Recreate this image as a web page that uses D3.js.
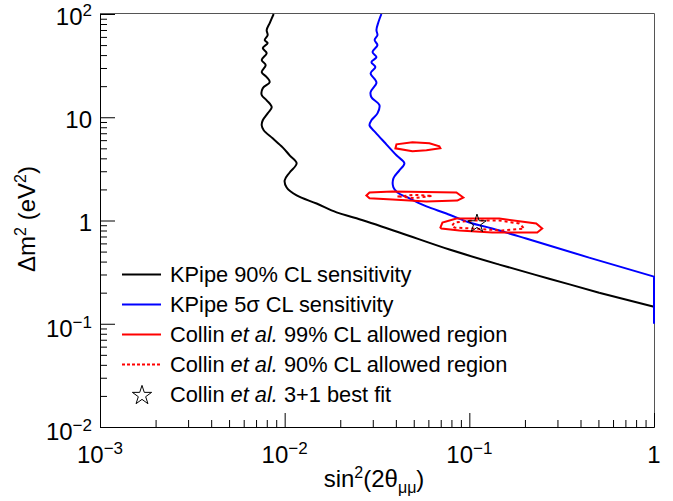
<!DOCTYPE html>
<html><head><meta charset="utf-8">
<script src="https://cdn.jsdelivr.net/npm/d3@7"></script>
<style>
body{margin:0;background:#fff}
text{font-family:"Liberation Sans",Arial,Helvetica,sans-serif;fill:#000}
</style>
</head><body>
<svg id="chart" width="673" height="501"></svg>
<script>
// ---------- data ----------
const xMajorTicks = [0.001, 0.01, 0.1, 1];
const xTickLabels = [["10","\u22123"],["10","\u22122"],["10","\u22121"],["1",""]];
const yMajorTicks = [0.01, 0.1, 1, 10, 100];
const yTickLabels = [["10","\u22122"],["10","\u22121"],["1",""],["10",""],["10","2"]];

// KPipe 90% CL sensitivity
const kp90Sin = [0.00872,0.00830,0.00799,0.00809,0.00780,0.00809,0.00761,0.00799,0.00751,0.00789,
  0.00751,0.00799,0.00830,0.00761,0.00751,0.00799,0.00851,0.00809,0.00761,0.00751,
  0.00770,0.00861,0.00975,0.01064,0.01161,0.01064,0.0100,0.01025,0.01161,0.01489,
  0.0191,0.0245,0.0418,0.078,0.1453,0.2707,0.5045,1.0];
const kp90Dm = [100,81.7,70.0,62.5,55.9,52.3,46.8,41.8,35.8,32.0,
  27.4,24.5,21.9,19.1,16.4,14.6,12.5,10.9,9.35,8.36,
  7.48,6.25,5.11,4.28,3.58,2.92,2.45,2.09,1.75,1.46,
  1.20,1.05,0.765,0.523,0.374,0.273,0.200,0.146];

// KPipe 5 sigma CL sensitivity
const kp5sSin = [0.0334,0.0322,0.0314,0.0318,0.0307,0.0318,0.0299,0.0314,0.0295,0.0310,
  0.0292,0.0310,0.0314,0.0292,0.0295,0.0326,0.0318,0.0295,0.0288,0.0310,
  0.0347,0.0403,0.0445,0.0418,0.0388,0.0388,0.0408,0.0474,0.0586,0.0751,
  0.100,0.133,0.203,0.445,1.0,1.0];
const kp5sDm = [100,83.6,70.0,62.5,55.9,50.0,42.8,38.2,34.2,30.6,
  26.7,22.9,21.4,17.5,15.6,13.1,10.9,9.35,8.36,7.15,
  5.72,4.28,3.58,3.06,2.56,2.09,1.87,1.64,1.37,1.17,
  0.956,0.836,0.669,0.437,0.286,0.1];

// Collin et al. 99% CL allowed regions (three islands)
const c99UpperSin = [0.0398,0.0403,0.0492,0.0608,0.0688,0.0697,0.0586,0.0492];
const c99UpperDm  = [5.00,5.47,5.72,5.59,5.23,5.00,4.78,4.68];
const c99MidSin = [0.0277,0.0288,0.0384,0.0851,0.0928,0.0861,0.0586,0.0384,0.0288];
const c99MidDm  = [1.75,1.87,1.91,1.87,1.67,1.56,1.53,1.60,1.64];
const c99LowSin = [0.0697,0.0715,0.0851,0.1453,0.2303,0.2481,0.2332,0.1331,0.0883,0.0706];
const c99LowDm  = [0.855,0.956,1.046,1.046,0.935,0.836,0.765,0.765,0.800,0.836];

// Collin et al. 90% CL allowed regions
const c90MidSin = [0.0408,0.0504,0.0631,0.0504];
const c90MidDm  = [1.71,1.77,1.73,1.65];
const c90LowSin = [0.0809,0.0830,0.1038,0.1453,0.1864,0.1983,0.1509,0.1038,0.0830];
const c90LowDm  = [0.894,0.956,1.0,1.0,0.935,0.836,0.800,0.836,0.855];

// Collin et al. 3+1 best fit
const bestFitSin = [0.11];
const bestFitDm  = [0.93];

const legendLabels = [
  [["KPipe 90% CL sensitivity",""]],
  [["KPipe 5\u03c3 CL sensitivity",""]],
  [["Collin ",""],["et al.","i"],[" 99% CL allowed region",""]],
  [["Collin ",""],["et al.","i"],[" 90% CL allowed region",""]],
  [["Collin ",""],["et al.","i"],[" 3+1 best fit",""]]
];

// ---------- drawing ----------
const svg = d3.select("#chart");
const L = 100, R = 654, T = 14, B = 427;
const x = d3.scaleLog().domain([1e-3, 1]).range([L, R]);
const y = d3.scaleLog().domain([1e-2, 1e2]).range([B, T]);

svg.append("rect").attr("width",673).attr("height",501).attr("fill","#fff");

// frame top/right
svg.append("line").attr("x1",L).attr("x2",R+0.5).attr("y1",T-0.5).attr("y2",T-0.5)
  .attr("stroke","#555").attr("stroke-width",1);
svg.append("line").attr("x1",R+0.5).attr("x2",R+0.5).attr("y1",T-0.5).attr("y2",B)
  .attr("stroke","#555").attr("stroke-width",1);

const xMinor = x.ticks().filter(v => !xMajorTicks.some(m => Math.abs(m - v) / m < 1e-6));
const yMinor = y.ticks().filter(v => !yMajorTicks.some(m => Math.abs(m - v) / m < 1e-6));

const gx = svg.append("g").attr("transform",`translate(0,${B})`);
gx.append("g").call(d3.axisBottom(x).tickValues(xMajorTicks).tickSizeInner(-14).tickSizeOuter(0).tickFormat(() => ""));
gx.append("g").call(d3.axisBottom(x).tickValues(xMinor).tickSizeInner(-7).tickSizeOuter(0).tickFormat(() => ""));
const gy = svg.append("g").attr("transform",`translate(${L},0)`);
gy.append("g").call(d3.axisLeft(y).tickValues(yMajorTicks).tickSizeInner(-15).tickSizeOuter(0).tickFormat(() => ""));
gy.append("g").call(d3.axisLeft(y).tickValues(yMinor).tickSizeInner(-7).tickSizeOuter(0).tickFormat(() => ""));
svg.selectAll(".domain, .tick line").attr("stroke","#000");

// tick labels
xMajorTicks.forEach((v, i) => {
  const t = svg.append("text").attr("x", x(v)).attr("y", 463)
    .attr("text-anchor","middle").style("font-size","24px");
  t.append("tspan").text(xTickLabels[i][0]);
  if (xTickLabels[i][1]) t.append("tspan").attr("dy",-9).style("font-size","17px").text(xTickLabels[i][1]);
});
yMajorTicks.forEach((v, i) => {
  const sup = yTickLabels[i][1];
  const off = (sup && sup !== "2") ? 13 : 10.5;
  const t = svg.append("text").attr("x", 92).attr("y", y(v) + off)
    .attr("text-anchor","end").style("font-size","24px");
  t.append("tspan").text(yTickLabels[i][0]);
  if (sup) t.append("tspan").attr("dy",-9).style("font-size","17px").text(sup);
});

// axis titles
const xt = svg.append("text").attr("x",374).attr("y",487).attr("text-anchor","middle").style("font-size","24px");
xt.append("tspan").text("sin");
xt.append("tspan").attr("dy",-9).style("font-size","16px").text("2");
xt.append("tspan").attr("dy",9).text("(2\u03b8");
xt.append("tspan").attr("dy",6).style("font-size","16px").text("\u03bc\u03bc");
xt.append("tspan").attr("dy",-6).text(")");

const yt = svg.append("text").attr("transform","translate(35,219) rotate(-90)")
  .attr("text-anchor","middle").style("font-size","24px");
yt.append("tspan").text("\u0394m");
yt.append("tspan").attr("dy",-9).style("font-size","16px").text("2");
yt.append("tspan").attr("dy",9).text(" (eV");
yt.append("tspan").attr("dy",-9).style("font-size","16px").text("2");
yt.append("tspan").attr("dy",9).text(")");

// plot area clip
svg.append("clipPath").attr("id","clip").append("rect")
  .attr("x",L-1).attr("y",T-1).attr("width",R-L+3).attr("height",B-T+2);
const plot = svg.append("g").attr("clip-path","url(#clip)");

const smooth = d3.line().x(d => x(d[0])).y(d => y(d[1])).curve(d3.curveCatmullRom.alpha(0.5));
const straight = d3.line().x(d => x(d[0])).y(d => y(d[1]));
const closed = d3.line().x(d => x(d[0])).y(d => y(d[1])).curve(d3.curveLinearClosed);

// sensitivity curves: smooth wiggly part, straight tail into the x = 1 edge
function drawSensitivity(sinArr, dmArr, color) {
  const pts = d3.zip(sinArr, dmArr);
  const k = pts.findIndex(p => p[0] >= 1);
  const end = k < 0 ? pts.length : k;
  plot.append("path").datum(pts.slice(0, end)).attr("d", smooth)
    .attr("fill","none").attr("stroke",color).attr("stroke-width",2).attr("stroke-linejoin","round");
  plot.append("path").datum(pts.slice(Math.max(0, end - 1))).attr("d", straight)
    .attr("fill","none").attr("stroke",color).attr("stroke-width",2).attr("stroke-linejoin","round");
}
drawSensitivity(kp90Sin, kp90Dm, "#000");
drawSensitivity(kp5sSin, kp5sDm, "#0000ff");

[[c99UpperSin,c99UpperDm],[c99MidSin,c99MidDm],[c99LowSin,c99LowDm]].forEach(([s,d]) => {
  plot.append("path").datum(d3.zip(s,d)).attr("d", closed)
    .attr("fill","none").attr("stroke","#ff0000").attr("stroke-width",2);
});
[[c90MidSin,c90MidDm],[c90LowSin,c90LowDm]].forEach(([s,d]) => {
  plot.append("path").datum(d3.zip(s,d)).attr("d", closed)
    .attr("fill","none").attr("stroke","#ff0000").attr("stroke-width",2).attr("stroke-dasharray","3,3");
});

const star = d3.symbol().type(d3.symbolStar).size(105);
plot.selectAll(".bf").data(d3.zip(bestFitSin, bestFitDm)).join("path")
  .attr("transform", d => `translate(${x(d[0])},${y(d[1])})`)
  .attr("d", star).attr("fill","none").attr("stroke","#000").attr("stroke-width",1);

// legend
const legStyles = [
  {stroke:"#000", dash:null},
  {stroke:"#0000ff", dash:null},
  {stroke:"#ff0000", dash:null},
  {stroke:"#ff0000", dash:"3,2"},
  {star:true}
];
legendLabels.forEach((parts, i) => {
  const cy = 274.5 + i * 30;
  const st = legStyles[i];
  if (st.star) {
    svg.append("path").attr("transform",`translate(142,${cy + 1})`).attr("d", d3.symbol().type(d3.symbolStar).size(115))
      .attr("fill","none").attr("stroke","#000").attr("stroke-width",1);
  } else {
    svg.append("line").attr("x1",122).attr("x2",161).attr("y1",cy).attr("y2",cy)
      .attr("stroke",st.stroke).attr("stroke-width",2).attr("stroke-dasharray",st.dash);
  }
  const t = svg.append("text").attr("x",170).attr("y",cy + 7).style("font-size","21.8px");
  parts.forEach(p => {
    const ts = t.append("tspan").text(p[0]);
    if (p[1] === "i") ts.style("font-style","italic");
  });
});
</script>
</body></html>
